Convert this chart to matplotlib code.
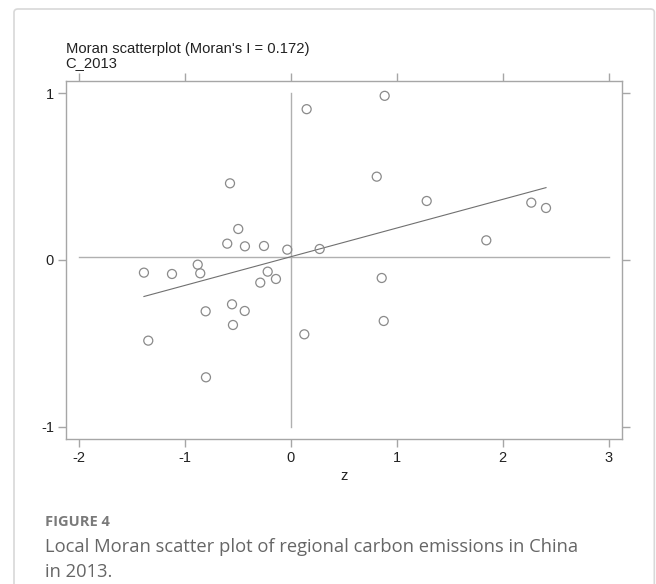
import numpy as np
import matplotlib
matplotlib.use("Agg")
import matplotlib.pyplot as plt
from matplotlib.patches import FancyBboxPatch

plt.rcParams['font.family'] = ['Liberation Sans', 'DejaVu Sans']
plt.rcParams['axes.unicode_minus'] = False

# Data: standardized z and spatial lag Wz
z = [-0.576, -0.498, -0.602, -0.435, -0.255, -0.035, 0.271, -1.389, -1.124, -0.881,
     -0.857, -0.220, -0.142, -0.290, -0.557, -0.806, -0.437, -0.548, -1.348, 0.126,
     -0.803, 0.885, 0.148, 0.810, 1.282, 2.270, 2.409, 1.845, 0.857, 0.876]
wz = [0.460, 0.186, 0.098, 0.082, 0.084, 0.062, 0.066, -0.076, -0.084, -0.028,
      -0.080, -0.070, -0.114, -0.136, -0.266, -0.308, -0.306, -0.390, -0.484, -0.446,
      -0.704, 0.985, 0.905, 0.500, 0.354, 0.344, 0.312, 0.118, -0.108, -0.366]
moran_i = 0.172
var_name = "C_2013"
x_ticks = [-2, -1, 0, 1, 2, 3]
y_ticks = [-1, 0, 1]

z = np.array(z)
wz = np.array(wz)

fig = plt.figure(figsize=(6.56, 5.84), dpi=100)

# outer light frame
frame = FancyBboxPatch((14/656, -0.05), (655-14)/656 - 0.001, (584-9)/584 + 0.05,
                       boxstyle="round,pad=0,rounding_size=0.006",
                       transform=fig.transFigure, fill=False,
                       edgecolor="#d8d8d8", linewidth=1.2)
fig.patches.append(frame)

ax = fig.add_axes([65.7/656, 1 - 439.3/584, (621.7-65.7)/656, (439.3-80.5)/584])
axis_gray = "#a6a6a6"
for s in ax.spines.values():
    s.set_color(axis_gray)
    s.set_linewidth(1.0)

ax.set_xlim(-2.128, 3.124)
ax.set_ylim(-1.076, 1.077)

# reference lines at the means
ax.plot([x_ticks[0], x_ticks[-1]], [wz.mean(), wz.mean()], color="#b0b0b0", lw=1.0, zorder=1)
ax.plot([z.mean(), z.mean()], [y_ticks[0], y_ticks[-1]], color="#b0b0b0", lw=1.0, zorder=1)

# fitted line (slope = Moran's I)
xs = np.array([z.min(), z.max()])
ax.plot(xs, wz.mean() + moran_i * (xs - z.mean()), color="#707070", lw=0.8, zorder=2)

ax.scatter(z, wz, s=42, facecolors="none", edgecolors="#8a8a8a", linewidths=0.9, zorder=3)

ax.set_xticks(x_ticks)
ax.set_yticks(y_ticks)
ax.set_xticklabels([str(t) for t in x_ticks])
ax.set_yticklabels([str(t) for t in y_ticks])
ax.tick_params(direction="out", length=5.5, width=1.0, color=axis_gray,
               labelsize=10.5, labelcolor="#222222", pad=3,
               top=True, right=True, labeltop=False, labelright=False)
ax.set_xlabel("z", fontsize=10.5, color="#222222", labelpad=3)

fig.text(65.7/656, 1 - 49/584, "Moran scatterplot (Moran's I = %.3f)" % moran_i,
         fontsize=10.6, color="#222222", va="center", ha="left")
fig.text(65.7/656, 1 - 63/584, var_name,
         fontsize=10.6, color="#222222", va="center", ha="left")

fig.text(45/656, 1 - 522/584, "FIGURE 4", fontsize=10.5, fontweight="bold",
         color="#7a7a7a", family=["Open Sans", "DejaVu Sans"], va="center", ha="left")
fig.text(45/656, 1 - 547/584, "Local Moran scatter plot of regional carbon emissions in China",
         fontsize=13.2, color="#666666", family=["Open Sans", "DejaVu Sans"],
         va="center", ha="left")
fig.text(45/656, 1 - 572/584, "in 2013.",
         fontsize=13.2, color="#666666", family=["Open Sans", "DejaVu Sans"],
         va="center", ha="left")

fig.savefig("out.png", dpi=100)
